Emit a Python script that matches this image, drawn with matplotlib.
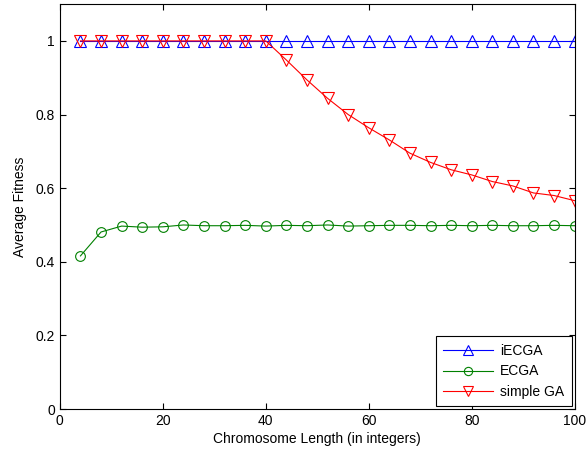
import matplotlib
matplotlib.use("Agg")
import matplotlib.pyplot as plt

plt.rcParams['font.family'] = ['Liberation Sans', 'DejaVu Sans']

x = [4, 8, 12, 16, 20, 24, 28, 32, 36, 40, 44, 48, 52, 56, 60, 64, 68, 72, 76, 80, 84, 88, 92, 96, 100]
iecga = [1.0] * 25
ecga = [0.416, 0.481, 0.497, 0.494, 0.495, 0.500, 0.498, 0.498, 0.499, 0.497, 0.499, 0.498, 0.500, 0.497, 0.498, 0.499, 0.499, 0.498, 0.499, 0.498, 0.499, 0.498, 0.498, 0.499, 0.498]
simple_ga = [1.0, 1.0, 1.0, 1.0, 1.0, 1.0, 1.0, 1.0, 1.0, 1.0, 0.948, 0.894, 0.844, 0.800, 0.764, 0.731, 0.695, 0.670, 0.650, 0.636, 0.618, 0.606, 0.587, 0.580, 0.566]

fig = plt.figure(figsize=(5.87, 4.54), dpi=100)
ax = fig.add_axes([0.102, 0.099, 0.877, 0.892])

ax.plot(x, iecga, color='blue', marker='^', mfc='none', ms=8, lw=0.8, mew=0.8, label='iECGA')
ax.plot(x, ecga, color='green', marker='o', mfc='none', ms=7, lw=0.8, mew=0.8, label='ECGA')
ax.plot(x, simple_ga, color='red', marker='v', mfc='none', ms=8, lw=0.8, mew=0.8, label='simple GA')

ax.set_xlim(0, 100)
ax.set_ylim(0, 1.1)
ax.set_xticks([0, 20, 40, 60, 80, 100])
ax.set_yticks([0, 0.2, 0.4, 0.6, 0.8, 1.0])
ax.set_yticklabels(['0', '0.2', '0.4', '0.6', '0.8', '1'])
ax.tick_params(direction='in', top=True, right=True, labelsize=10, length=4)
for s in ax.spines.values():
    s.set_linewidth(0.8)
ax.set_xlabel('Chromosome Length (in integers)', fontsize=10, labelpad=3)
ax.set_ylabel('Average Fitness', fontsize=10, labelpad=6)

leg = ax.legend(loc='lower right', fontsize=10, fancybox=False, edgecolor='black',
                framealpha=1, borderaxespad=0.2, handlelength=3.6, labelspacing=0.45,
                markerscale=0.85, handletextpad=0.5, borderpad=0.55)
leg.get_frame().set_linewidth(0.8)

fig.savefig('out.png', dpi=100)
